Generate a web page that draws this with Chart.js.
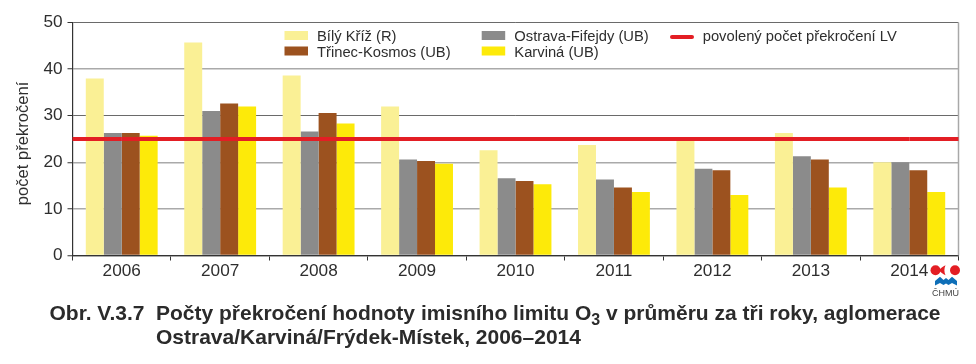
<!DOCTYPE html>
<html lang="cs">
<head>
<meta charset="utf-8">
<script src="https://cdn.jsdelivr.net/npm/chart.js@4"></script>
<style>
html,body{margin:0;padding:0;background:#fff;width:976px;height:364px;overflow:hidden}
#c{position:absolute;left:0;top:0}
.cap{position:absolute;font:bold 21px "Liberation Sans",Arial,sans-serif;color:#2b2b2b;white-space:nowrap;line-height:24px}
.cap sub{font-size:16px;line-height:0;vertical-align:-5px}
#logo{position:absolute;left:925px;top:260px}
</style>
</head>
<body>
<canvas id="c" width="976" height="364"></canvas>
<div class="cap" style="left:49.5px;top:301px">Obr. V.3.7</div>
<div class="cap" style="left:156px;top:301px">Počty překročení hodnoty imisního limitu O<sub>3</sub> v průměru za tři roky, aglomerace<br>Ostrava/Karviná/Frýdek-Místek, 2006–2014</div>
<svg id="logo" width="42" height="38" viewBox="0 0 42 38">
  <circle cx="10.5" cy="10.3" r="5" fill="#e31e24"/>
  <path d="M20.5 5.3 C18 6.5 15.5 8.5 13.5 10.3 C15.5 12 18 14 20.5 15.3 C19 12 19 8.5 20.5 5.3Z" fill="#e31e24"/>
  <circle cx="30" cy="10.3" r="5" fill="#e31e24"/>
  <path d="M10 25.5 L10 21 L15 16.8 L18.5 20 L21 18 L23.5 20 L27 16.8 L32 21 L32 25.5 L27 23 L23.5 25 L21 23.5 L18.5 25 L15 23 Z" fill="#0f6fb8"/>
  <text x="20.5" y="35.5" text-anchor="middle" font-family="Liberation Sans, Arial, sans-serif" font-size="9" fill="#444">ČHMÚ</text>
</svg>
<script>
const years = ["2006","2007","2008","2009","2010","2011","2012","2013","2014"];
const bilyKriz = [38, 45.7, 38.6, 32, 22.6, 23.7, 25, 26.3, 20];
const ostravaFifejdy = [26.3, 31, 26.6, 20.6, 16.6, 16.3, 18.6, 21.3, 20];
const trinecKosmos = [26.3, 32.6, 30.6, 20.3, 16, 14.6, 18.3, 20.6, 18.3];
const karvina = [25.7, 32, 28.3, 19.7, 15.3, 13.6, 13, 14.6, 13.6];
const limitLV = [25, 25, 25, 25, 25, 25, 25, 25, 25];
const yTicks = [0, 10, 20, 30, 40, 50];
const yTitle = 'počet překročení';

const FONT = '"Liberation Sans", Arial, sans-serif';
const INK = '#2e2e2e';

const legendPlugin = {
  id: 'cornerLegend',
  afterDraw(chart) {
    const ctx = chart.ctx, ds = chart.data.datasets;
    const place = [[284.5,36,317],[481.7,36,514.3],[670,36,702.7],[284.5,51.5,317],[481.7,51.5,514.3]];
    const order = [0,1,4,2,3];
    ctx.save();
    ctx.font = '14.75px ' + FONT;
    ctx.textBaseline = 'middle';
    order.forEach((di, i) => {
      const d = ds[di], p = place[i];
      if (d.type === 'line') {
        ctx.strokeStyle = d.borderColor; ctx.lineWidth = 4; ctx.lineCap = 'round';
        ctx.beginPath(); ctx.moveTo(p[0]+2, p[1]+1); ctx.lineTo(p[0]+22, p[1]+1); ctx.stroke();
      } else {
        ctx.fillStyle = d.backgroundColor;
        ctx.fillRect(p[0], p[1]-5, 23.5, 9);
      }
      ctx.fillStyle = INK;
      ctx.fillText(d.label, p[2], p[1]+1);
    });
    // rotated axis title
    ctx.translate(23.5, 143.5);
    ctx.rotate(-Math.PI/2);
    ctx.font = '16.6px ' + FONT;
    ctx.textAlign = 'center';
    ctx.fillText(yTitle, 0, 0);
    ctx.restore();
  }
};

const frame = {
  id: 'frame',
  afterDatasetsDraw(chart) {
    const {ctx, chartArea:a} = chart;
    ctx.save();
    ctx.lineWidth = 1.5; ctx.strokeStyle = '#a8a8a8';
    ctx.beginPath(); ctx.moveTo(a.right, a.top); ctx.lineTo(a.right, a.bottom); ctx.stroke();
    // the limit line runs from frame to frame, beyond the first and last category centres
    const li = chart.data.datasets.findIndex(d => d.type === 'line');
    const pts = chart.getDatasetMeta(li).data, d = chart.data.datasets[li];
    ctx.strokeStyle = d.borderColor; ctx.lineWidth = d.borderWidth; ctx.lineCap = 'butt';
    ctx.beginPath();
    ctx.moveTo(a.left, pts[0].y); ctx.lineTo(pts[0].x, pts[0].y);
    ctx.moveTo(pts[pts.length-1].x, pts[0].y); ctx.lineTo(a.right, pts[0].y);
    ctx.stroke();
    ctx.restore();
  }
};

const bar = (label, data, color) => ({type:'bar', label, data, backgroundColor:color, order:2,
  categoryPercentage:0.73, barPercentage:1, borderWidth:0});

new Chart(document.getElementById('c'), {
  data: {
    labels: years,
    datasets: [
      bar('Bílý Kříž (R)', bilyKriz, '#faf095'),
      bar('Ostrava-Fifejdy (UB)', ostravaFifejdy, '#8b8b8b'),
      bar('Třinec-Kosmos (UB)', trinecKosmos, '#9c521f'),
      bar('Karviná (UB)', karvina, '#fdea09'),
      {type:'line', label:'povolený počet překročení LV', data: limitLV,
       borderColor:'#e31e24', borderWidth:4, pointRadius:0, order:1}
    ]
  },
  options: {
    responsive:false, animation:false, devicePixelRatio:1,
    layout:{padding:{left:0,right:17.5,top:22.5,bottom:0}},
    plugins:{legend:{display:false}, tooltip:{enabled:false}, title:{display:false}},
    scales:{
      x:{type:'category', offset:true, position:'bottom',
        afterFit(s){s.height=108.5;},
        border:{color:'#333',width:1.2},
        grid:{offset:true, drawOnChartArea:false, drawTicks:true, tickLength:5, color:'#333', lineWidth:1},
        ticks:{color:INK, font:{family:FONT,size:17.2}, padding:0, maxRotation:0}},
      y:{type:'linear', min:0, max:50, position:'left',
        afterFit(s){s.width=72.5;},
        afterBuildTicks(s){s.ticks=yTicks.map(v=>({value:v}));},
        border:{color:'#333',width:1.2},
        grid:{tickLength:5,
          color(c){return c.tick && (c.tick.value===30||c.tick.value===50)?'#6a6a6a':'#aaaaaa';},
          lineWidth(c){return c.tick && (c.tick.value===30||c.tick.value===50)?1:1.5;},
          tickColor:'#333', tickWidth:1},
        ticks:{color:INK, font:{family:FONT,size:17.2}, padding:5}}
    }
  },
  plugins:[legendPlugin, frame]
});
</script>
</body>
</html>
